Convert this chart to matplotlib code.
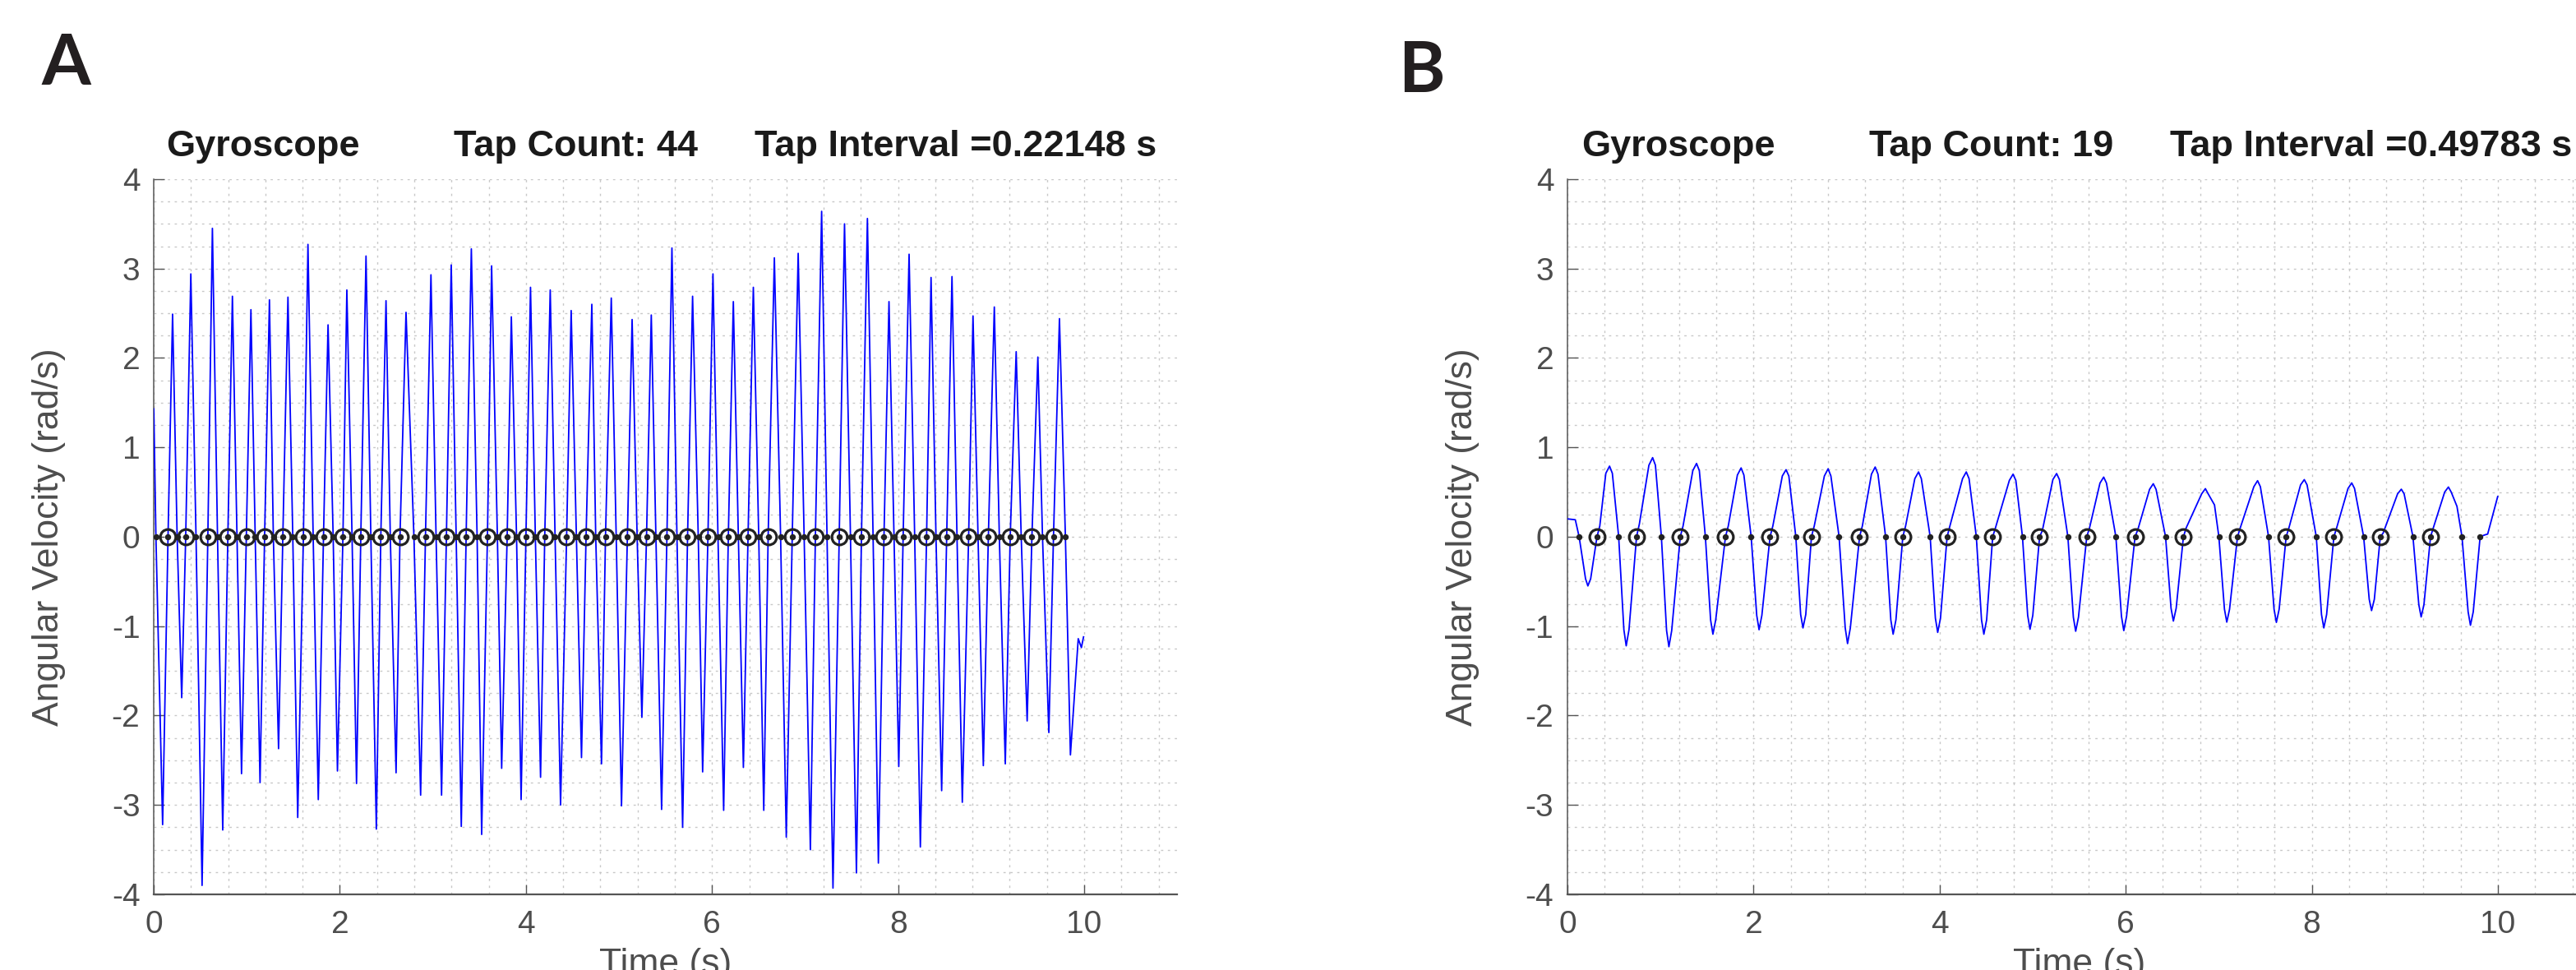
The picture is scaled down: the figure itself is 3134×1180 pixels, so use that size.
import matplotlib.pyplot as plt
from matplotlib.ticker import MultipleLocator

plt.rcParams['font.family'] = ['Liberation Sans', 'DejaVu Sans']
plt.rcParams['axes.unicode_minus'] = False

# ---- panel A : fast tapping ----
a_title = ['Gyroscope', 'Tap Count: 44', 'Tap Interval =0.22148 s']
a_start = [(0.0, 1.43)]
a_peak_t = [0.202, 0.398, 0.630, 0.845, 1.044, 1.243, 1.442, 1.657, 1.873, 2.075,
            2.281, 2.496, 2.711, 2.979, 3.197, 3.413, 3.631, 3.843, 4.049, 4.261,
            4.486, 4.708, 4.917, 5.141, 5.347, 5.569, 5.791, 6.010, 6.229, 6.444,
            6.670, 6.926, 7.178, 7.424, 7.670, 7.902, 8.118, 8.354, 8.579, 8.805,
            9.034, 9.269, 9.502, 9.734]
a_peak_v = [2.49, 2.94, 3.45, 2.69, 2.54, 2.65, 2.68, 3.27, 2.37, 2.76,
            3.14, 2.64, 2.51, 2.93, 3.04, 3.22, 3.03, 2.46, 2.79, 2.76,
            2.53, 2.60, 2.67, 2.43, 2.48, 3.23, 2.69, 2.94, 2.63, 2.79,
            3.12, 3.17, 3.64, 3.50, 3.56, 2.63, 3.16, 2.90, 2.91, 2.47,
            2.57, 2.07, 2.01, 2.44]
a_trough_t = [0.095, 0.300, 0.519, 0.741, 0.943, 1.142, 1.341, 1.547, 1.768, 1.974,
              2.179, 2.392, 2.604, 2.868, 3.093, 3.305, 3.524, 3.739, 3.948, 4.157,
              4.372, 4.597, 4.812, 5.027, 5.246, 5.458, 5.684, 5.899, 6.125, 6.337,
              6.556, 6.798, 7.057, 7.300, 7.552, 7.788, 8.007, 8.239, 8.468, 8.690,
              8.916, 9.152, 9.387, 9.620, 9.852]
a_trough_v = [-3.22, -1.80, -3.90, -3.28, -2.65, -2.75, -2.37, -3.14, -2.94, -2.62,
              -2.76, -3.27, -2.64, -2.89, -2.89, -3.24, -3.33, -2.59, -2.94, -2.69,
              -3.00, -2.47, -2.54, -3.01, -2.02, -3.05, -3.25, -2.63, -3.06, -2.58,
              -3.06, -3.36, -3.50, -3.93, -3.76, -3.65, -2.57, -3.47, -2.84, -2.97,
              -2.56, -2.54, -2.06, -2.19, -2.44]
# taps = upward zero crossings (circles)
a_tap_t = [0.153, 0.343, 0.581, 0.796, 0.995, 1.191, 1.387, 1.608, 1.824, 2.033,
           2.225, 2.440, 2.646, 2.920, 3.145, 3.357, 3.586, 3.798, 4.000, 4.202,
           4.437, 4.646, 4.855, 5.090, 5.296, 5.515, 5.737, 5.956, 6.175, 6.387,
           6.603, 6.862, 7.111, 7.367, 7.606, 7.848, 8.054, 8.306, 8.522, 8.758,
           8.970, 9.205, 9.438, 9.670]
# downward zero crossings (dots only)
a_down_t = [0.023, 0.251, 0.454, 0.685, 0.894, 1.090, 1.285, 1.494, 1.713, 1.928,
            2.131, 2.333, 2.542, 2.796, 3.034, 3.250, 3.475, 3.693, 3.899, 4.101,
            4.313, 4.542, 4.750, 4.970, 5.195, 5.397, 5.623, 5.852, 6.064, 6.283,
            6.502, 6.737, 6.990, 7.236, 7.488, 7.731, 7.956, 8.178, 8.407, 8.633,
            8.859, 9.088, 9.323, 9.552, 9.798]
a_extra_t = []
a_shape = [(9.936, -1.14), (9.970, -1.24), (9.993, -1.12)]

# ---- panel B : slow tapping ----
b_title = ['Gyroscope', 'Tap Count: 19', 'Tap Interval =0.49783 s']
b_start = [(0.0, 0.20), (0.084, 0.19)]
b_peak_t = [0.452, 0.915, 1.387, 1.866, 2.349, 2.801, 3.307, 3.773, 4.286, 4.789,
            5.257, 5.763, 6.296, 6.856, 7.417, 7.919, 8.429, 8.962, 9.468]
b_peak_v = [0.79, 0.885, 0.82, 0.77, 0.75, 0.76, 0.78, 0.725, 0.725, 0.70,
            0.707, 0.667, 0.593, 0.538, 0.627, 0.639, 0.602, 0.532, 0.556]
b_trough_t = [0.219, 0.631, 1.090, 1.563, 2.059, 2.531, 3.010, 3.500, 3.979, 4.475,
              4.971, 5.462, 5.979, 6.512, 7.086, 7.619, 8.129, 8.642, 9.175, 9.705]
b_trough_v = [-0.55, -1.22, -1.23, -1.09, -1.04, -1.02, -1.195, -1.09, -1.07, -1.09,
              -1.035, -1.057, -1.05, -0.943, -0.955, -0.958, -1.02, -0.826, -0.897, -0.99]
b_tap_t = [0.317, 0.742, 1.212, 1.698, 2.177, 2.622, 3.139, 3.604, 4.080, 4.570,
           5.074, 5.581, 6.100, 6.620, 7.201, 7.724, 8.237, 8.736, 9.276]
b_down_t = [0.125, 0.550, 1.009, 1.482, 1.974, 2.454, 2.919, 3.419, 3.898, 4.394,
            4.890, 5.378, 5.894, 6.428, 7.001, 7.535, 8.048, 8.557, 9.087, 9.614]
b_extra_t = [9.809]
# shoulders and rounded tops / bottoms of each lobe, plus the tail
b_shape_t = [0.347, 0.412, 0.482, 0.772, 0.875, 0.945, 1.242, 1.347, 1.417,
             1.728, 1.826, 1.896, 2.207, 2.309, 2.379, 2.652, 2.761, 2.831,
             3.169, 3.267, 3.337, 3.634, 3.733, 3.803, 4.110, 4.246, 4.316,
             4.600, 4.749, 4.819, 5.104, 5.217, 5.287, 5.611, 5.723, 5.793,
             6.130, 6.256, 6.326, 6.650, 6.816, 6.886, 6.954, 7.231, 7.377, 7.447,
             7.754, 7.879, 7.949, 8.267, 8.389, 8.459, 8.766, 8.922, 8.992,
             9.306, 9.428, 9.498, 9.560,
             0.194, 0.249, 0.606, 0.661, 1.065, 1.120, 1.538, 1.593, 2.034, 2.089,
             2.506, 2.561, 2.985, 3.040, 3.475, 3.530, 3.954, 4.009, 4.450, 4.505,
             4.946, 5.001, 5.437, 5.492, 5.954, 6.009, 6.487, 6.542, 7.061, 7.116,
             7.594, 7.649, 8.104, 8.159, 8.617, 8.672, 9.150, 9.205, 9.680, 9.735,
             9.857, 9.890, 9.998]
b_shape_v = [0.12, 0.71, 0.71, 0.14, 0.80, 0.80, 0.12, 0.74, 0.74,
             0.12, 0.69, 0.69, 0.12, 0.68, 0.68, 0.12, 0.68, 0.68,
             0.12, 0.70, 0.70, 0.12, 0.65, 0.65, 0.12, 0.65, 0.65,
             0.10, 0.63, 0.63, 0.07, 0.64, 0.64, 0.10, 0.60, 0.60,
             0.08, 0.53, 0.53, 0.10, 0.48, 0.48, 0.356, 0.10, 0.56, 0.56,
             0.10, 0.58, 0.58, 0.10, 0.54, 0.54, 0.04, 0.48, 0.48,
             0.10, 0.50, 0.50, 0.34,
             -0.47, -0.47, -1.04, -1.04, -1.05, -1.05, -0.93, -0.93, -0.88, -0.88,
             -0.87, -0.87, -1.02, -1.02, -0.93, -0.93, -0.91, -0.91, -0.93, -0.93,
             -0.88, -0.88, -0.90, -0.90, -0.89, -0.89, -0.80, -0.80, -0.81, -0.81,
             -0.81, -0.81, -0.87, -0.87, -0.70, -0.70, -0.76, -0.76, -0.84, -0.84,
             0.02, 0.03, 0.45]
b_shape = list(zip(b_shape_t, b_shape_v))


def build_trace(start, down_t, trough_t, trough_v, tap_t, extra_t, peak_t, peak_v, shape):
    # join the read points in time order
    pts = list(start) + list(shape)
    pts += [(t, 0.0) for t in down_t + tap_t + extra_t]
    pts += list(zip(trough_t, trough_v))
    pts += list(zip(peak_t, peak_v))
    pts.sort()
    return [p[0] for p in pts], [p[1] for p in pts]


def draw_panel(ax, titles, title_x, trace, tap_t, cross_t):
    t, v = trace
    ax.plot(t, v, color='#0000ff', lw=1.3, zorder=3, solid_joinstyle='round')
    ax.plot(cross_t, [0] * len(cross_t), 'o', color='#222222', ms=4.3, zorder=4)
    ax.plot(tap_t, [0] * len(tap_t), 'o', mfc='none', mec='#222222', ms=13.5,
            mew=2.3, zorder=5)

    ax.set_xlim(0, 11)
    ax.set_ylim(-4, 4)
    ax.set_xticks(range(0, 11, 2))
    ax.set_yticks(range(-4, 5))
    ax.xaxis.set_minor_locator(MultipleLocator(0.4))
    ax.yaxis.set_minor_locator(MultipleLocator(0.25))
    ax.grid(which='both', color='#c8c8c8', linestyle=(0, (2, 4)), linewidth=1.0)
    ax.set_axisbelow(True)
    ax.tick_params(which='major', direction='in', length=9, width=1.0,
                   color='#555555', labelsize=28, labelcolor='#4d4d4d')
    ax.tick_params(which='minor', length=0)
    ax.tick_params(axis='y', pad=12)
    ax.tick_params(axis='x', pad=14)
    for s in ['top', 'right']:
        ax.spines[s].set_visible(False)
    ax.spines['left'].set_color('#555555')
    ax.spines['left'].set_linewidth(1.1)
    ax.spines['bottom'].set_color('#555555')
    ax.spines['bottom'].set_linewidth(1.6)

    ax.set_xlabel('Time (s)', fontsize=32, color='#4d4d4d')
    ax.set_ylabel('Angular Velocity (rad/s)', fontsize=32, color='#4d4d4d')
    ax.xaxis.set_label_coords(0.5, -0.075)
    ax.yaxis.set_label_coords(-0.086, 0.5)

    for txt, x in zip(titles, title_x):
        fig.text(x, 0.839, txt, fontsize=32.5, fontweight='bold', color='#1a1a1a',
                 va='baseline', ha='left')


fig = plt.figure(figsize=(31.34, 11.8), dpi=100)
ax_a = fig.add_axes([0.0597, 0.078, 0.3973, 0.7373])
ax_b = fig.add_axes([0.6085, 0.078, 0.3973, 0.7373])

trace_a = build_trace(a_start, a_down_t, a_trough_t, a_trough_v, a_tap_t, a_extra_t,
                      a_peak_t, a_peak_v, a_shape)
trace_b = build_trace(b_start, b_down_t, b_trough_t, b_trough_v, b_tap_t, b_extra_t,
                      b_peak_t, b_peak_v, b_shape)

draw_panel(ax_a, a_title, [0.0645, 0.1761, 0.2929], trace_a, a_tap_t,
           sorted(a_down_t + a_tap_t + a_extra_t))
draw_panel(ax_b, b_title, [0.6139, 0.7256, 0.8424], trace_b, b_tap_t,
           sorted(b_down_t + b_tap_t + b_extra_t))

fig.text(0.016, 0.9127, 'A', fontsize=62, fontweight='bold', family='Lato', color='#231f20')
fig.text(0.5428, 0.905, 'B', fontsize=62, fontweight='bold', family='Lato', color='#231f20')

fig.savefig('out.png', dpi=100)
